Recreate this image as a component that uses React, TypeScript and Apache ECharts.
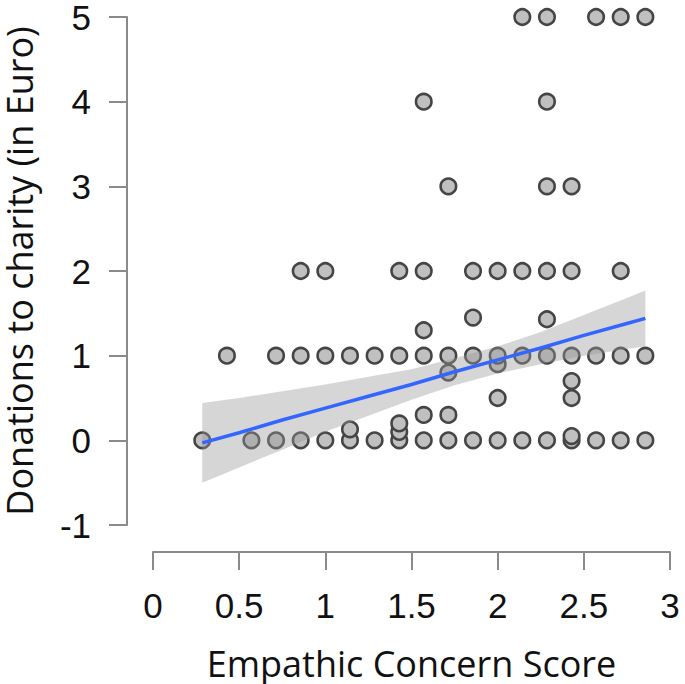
import React, { useEffect, useRef } from "react";
import * as echarts from "echarts";

// Empathic Concern Score (x) and donation in Euro (y), one entry per respondent
const scoreX = [
  0.286,
  0.429,
  0.571,
  0.714, 0.714,
  0.857, 0.857, 0.857,
  1.0, 1.0, 1.0,
  1.143, 1.143, 1.143,
  1.286, 1.286,
  1.429, 1.429, 1.429, 1.429, 1.429,
  1.571, 1.571, 1.571, 1.571, 1.571, 1.571,
  1.714, 1.714, 1.714, 1.714, 1.714,
  1.857, 1.857, 1.857, 1.857,
  2.0, 2.0, 2.0, 2.0, 2.0,
  2.143, 2.143, 2.143, 2.143,
  2.286, 2.286, 2.286, 2.286, 2.286, 2.286, 2.286,
  2.429, 2.429, 2.429, 2.429, 2.429, 2.429, 2.429,
  2.571, 2.571, 2.571,
  2.714, 2.714, 2.714, 2.714,
  2.857, 2.857, 2.857,
];
const donationY = [
  0,
  1,
  0,
  0, 1,
  0, 1, 2,
  0, 1, 2,
  0, 0.13, 1,
  0, 1,
  0, 0.1, 0.2, 1, 2,
  0, 0.3, 1, 1.3, 2, 4,
  0, 0.3, 0.8, 1, 3,
  0, 1, 1.45, 2,
  0, 0.5, 0.9, 1, 2,
  0, 1, 2, 5,
  0, 1, 1.43, 2, 3, 4, 5,
  0, 0.05, 0.5, 0.7, 1, 2, 3,
  0, 1, 5,
  0, 1, 2, 5,
  0, 1, 5,
];

// Fitted regression line and its confidence band
const fitX = [0.286, 0.5, 0.75, 1.0, 1.25, 1.5, 1.75, 2.0, 2.25, 2.5, 2.75, 2.857];
const fitY = [-0.03, 0.09, 0.24, 0.38, 0.52, 0.66, 0.81, 0.95, 1.09, 1.24, 1.38, 1.44];
const bandUpper = [0.44, 0.5, 0.58, 0.66, 0.75, 0.84, 0.97, 1.11, 1.28, 1.48, 1.68, 1.77];
const bandLower = [-0.5, -0.32, -0.11, 0.1, 0.29, 0.48, 0.65, 0.79, 0.9, 1.0, 1.08, 1.11];

const xTitle = "Empathic Concern Score";
const yTitle = "Donations to charity (in Euro)";

export default function App() {
  const ref = useRef<HTMLDivElement>(null);

  useEffect(() => {
    if (!ref.current) return;
    const chart = echarts.init(ref.current, undefined, { renderer: "svg" });
    const points = scoreX.map((x, i) => [x, donationY[i]]);
    const fitLine = fitX.map((x, i) => [x, fitY[i]]);

    const axisLine = { show: true, onZero: false, lineStyle: { color: "#8a8a8a", width: 2 } };
    const axisTick = { show: true, length: 18, inside: false, lineStyle: { color: "#8a8a8a", width: 2 } };
    const tickFont = { fontFamily: "Liberation Sans", fontSize: 35, color: "#111" };
    const titleFont = { fontFamily: "Open Sans", fontSize: 36, color: "#111" };

    chart.setOption({
      animation: false,
      backgroundColor: "#ffffff",
      grid: {
        left: 153,
        top: 17,
        width: 517,
        height: 508,
        containLabel: false,
        outerBoundsMode: "none",
      },
      xAxis: {
        type: "value",
        min: 0,
        max: 3,
        interval: 0.5,
        offset: 27,
        axisLine,
        axisTick,
        splitLine: { show: false },
        axisLabel: { ...tickFont, margin: 36 },
        name: xTitle,
        nameLocation: "middle",
        nameGap: 93,
        nameTextStyle: titleFont,
      },
      yAxis: {
        type: "value",
        min: -1,
        max: 5,
        interval: 1,
        offset: 26,
        axisLine,
        axisTick,
        splitLine: { show: false },
        axisLabel: { ...tickFont, margin: 36 },
        name: yTitle,
        nameLocation: "middle",
        nameGap: 90,
        nameTextStyle: titleFont,
      },
      series: [
        {
          type: "scatter",
          data: points,
          symbol: "circle",
          symbolSize: 15.5,
          itemStyle: { color: "#c0c0c0", borderColor: "#454545", borderWidth: 2.6, opacity: 1 },
          z: 2,
          silent: true,
        },
        {
          type: "custom",
          data: [[fitX[0], fitY[0]]],
          z: 3,
          silent: true,
          renderItem: (_params: any, api: any) => {
            const pts: number[][] = [];
            for (let i = 0; i < fitX.length; i++) pts.push(api.coord([fitX[i], bandUpper[i]]));
            for (let i = fitX.length - 1; i >= 0; i--) pts.push(api.coord([fitX[i], bandLower[i]]));
            return {
              type: "polygon",
              shape: { points: pts },
              style: { fill: "rgba(153,153,153,0.4)", stroke: "none" },
            };
          },
        },
        {
          type: "line",
          data: fitLine,
          symbol: "none",
          lineStyle: { color: "#3366ff", width: 3.5 },
          z: 4,
          silent: true,
        },
      ],
    });
    return () => chart.dispose();
  }, []);

  return (
    <div
      ref={ref}
      style={{ position: "fixed", left: 0, top: 0, width: 685, height: 684, background: "#fff" }}
    />
  );
}
